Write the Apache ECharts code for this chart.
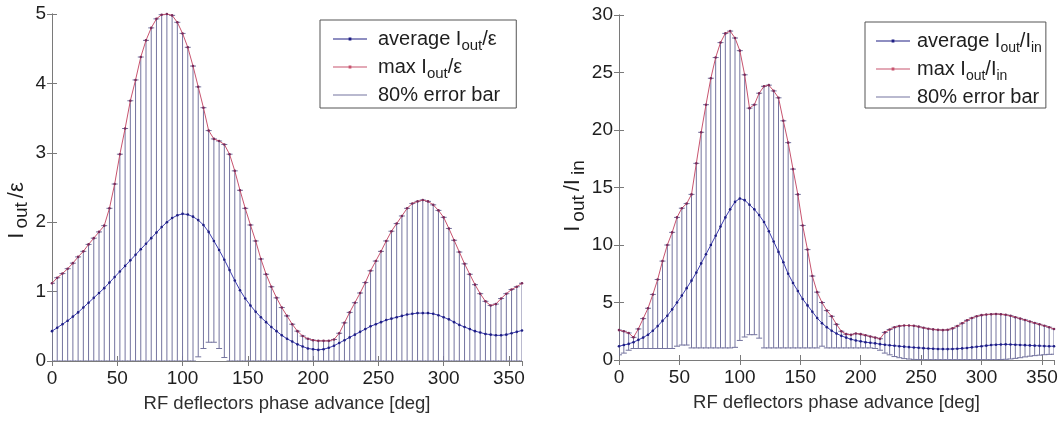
<!DOCTYPE html>
<html><head><meta charset="utf-8">
<script src="https://cdn.jsdelivr.net/npm/echarts@6/dist/echarts.min.js"></script>
<style>html,body{margin:0;padding:0;background:#fff}#c{width:1062px;height:421px}</style>
</head><body><div id="c"></div>
<script>
// phase advance grid (deg), one sample every 4 degrees
const phase = Array.from({length: 91}, (_, i) => i * 4);
const xTicks = [0, 50, 100, 150, 200, 250, 300, 350];

// ---- left panel: Iout/epsilon ----
const leftMax = [
 1.12,1.20,1.26,1.33,1.41,1.50,1.58,1.68,1.77,1.86,
 1.95,2.20,2.55,2.98,3.35,3.75,4.05,4.38,4.62,4.80,
 4.93,4.99,5.00,4.98,4.88,4.72,4.52,4.25,3.95,3.65,
 3.32,3.20,3.17,3.12,2.98,2.74,2.46,2.20,1.96,1.73,
 1.47,1.25,1.07,0.91,0.77,0.65,0.53,0.43,0.36,0.32,
 0.30,0.29,0.29,0.29,0.31,0.40,0.55,0.70,0.84,0.98,
 1.13,1.30,1.44,1.58,1.73,1.87,1.98,2.09,2.20,2.27,
 2.30,2.32,2.30,2.25,2.17,2.07,1.91,1.74,1.57,1.40,
 1.25,1.10,0.97,0.86,0.80,0.82,0.90,0.97,1.03,1.07,
 1.12];
const leftAvg = [
 0.43,0.48,0.53,0.58,0.64,0.70,0.77,0.84,0.91,0.98,
 1.05,1.13,1.21,1.29,1.37,1.45,1.53,1.61,1.69,1.77,
 1.85,1.93,2.00,2.06,2.10,2.12,2.11,2.08,2.03,1.96,
 1.86,1.73,1.60,1.46,1.31,1.16,1.02,0.90,0.80,0.71,
 0.63,0.56,0.49,0.43,0.37,0.32,0.28,0.24,0.21,0.18,
 0.17,0.16,0.17,0.19,0.22,0.26,0.30,0.34,0.38,0.42,
 0.46,0.50,0.53,0.56,0.59,0.61,0.63,0.65,0.67,0.68,
 0.69,0.69,0.69,0.68,0.66,0.63,0.60,0.56,0.52,0.49,
 0.46,0.43,0.41,0.39,0.38,0.37,0.37,0.38,0.40,0.42,
 0.44];
const leftLow = [
 0,0,0,0,0,0,0,0,0,0,
 0,0,0,0,0,0,0,0,0,0,
 0,0,0,0,0,0,0,0,0.06,0.18,
 0.27,0.27,0.18,0.05,0,0,0,0,0,0,
 0,0,0,0,0,0,0,0,0,0,
 0,0,0,0,0,0,0,0,0,0,
 0,0,0,0,0,0,0,0,0,0,
 0,0,0,0,0,0,0,0,0,0,
 0,0,0,0,0,0,0,0,0,0,
 0];
const leftYTicks = [0, 1, 2, 3, 4, 5];

// ---- right panel: Iout/Iin ----
const rightMax = [
 2.60,2.50,2.35,1.97,2.70,3.60,4.50,5.70,7.00,8.60,
 10.0,11.1,12.4,13.2,13.6,14.4,17.1,19.8,22.2,24.5,
 26.3,27.6,28.4,28.6,28.0,26.9,24.8,21.9,22.2,23.2,
 23.8,23.9,23.4,22.8,20.8,18.9,16.6,14.4,11.7,9.6,
 7.30,5.90,5.00,4.30,3.80,3.10,2.50,2.25,2.20,2.30,
 2.25,2.15,2.05,1.95,1.85,2.40,2.65,2.85,2.95,3.00,
 3.00,2.98,2.90,2.80,2.72,2.66,2.62,2.60,2.62,2.75,
 2.95,3.20,3.45,3.65,3.80,3.90,3.95,3.98,4.00,3.98,
 3.93,3.85,3.72,3.60,3.48,3.35,3.22,3.10,2.98,2.85,
 2.70];
const rightAvg = [
 1.20,1.30,1.40,1.55,1.75,1.95,2.20,2.55,2.95,3.40,
 3.85,4.40,5.00,5.60,6.25,6.90,7.60,8.40,9.20,10.0,
 10.8,11.6,12.4,13.1,13.75,14.05,13.9,13.5,13.1,12.6,
 12.0,11.2,10.3,9.40,8.50,7.50,6.70,6.00,5.30,4.75,
 4.20,3.65,3.20,2.85,2.55,2.30,2.10,1.95,1.80,1.70,
 1.62,1.55,1.50,1.45,1.38,1.33,1.28,1.24,1.20,1.16,
 1.12,1.09,1.06,1.03,1.00,0.98,0.96,0.95,0.95,0.96,
 0.98,1.01,1.05,1.10,1.15,1.20,1.25,1.30,1.33,1.35,
 1.36,1.35,1.33,1.31,1.29,1.27,1.25,1.23,1.21,1.20,
 1.20];
const rightLow = [
 0.45,0.60,0.85,1.00,1.00,1.00,1.00,1.00,1.00,1.00,
 1.00,1.00,1.20,1.30,1.30,1.05,1.05,1.05,1.05,1.05,
 1.05,1.05,1.05,1.05,1.10,1.70,2.00,2.20,2.20,1.90,
 1.05,1.05,1.05,1.05,1.05,1.05,1.05,1.05,1.05,1.05,
 1.05,1.05,1.20,1.05,1.05,1.05,1.05,1.05,1.05,1.05,
 1.05,1.05,1.05,1.00,0.85,0.60,0.45,0.30,0.20,0.12,
 0.08,0.05,0.04,0.03,0.03,0.03,0.03,0.03,0.03,0.03,
 0.03,0.03,0.03,0.03,0.03,0.03,0.03,0.03,0.03,0.04,
 0.06,0.09,0.14,0.20,0.27,0.33,0.38,0.42,0.46,0.49,
 0.50];
const rightYTicks = [0, 5, 10, 15, 20, 25, 30];

const xTitle = 'RF deflectors phase advance [deg]';
const legendLeft = ['average Iout/ε', 'max Iout/ε', '80% error bar'];
const legendRight = ['average Iout/Iin', 'max Iout/Iin', '80% error bar '];

// ---------------- styling ----------------
const FONT = 'Liberation Sans, Arial, Helvetica, sans-serif';
const AXIS_COLOR = '#7a7a7a';
const TEXT_COLOR = '#1e1e1e';
const BAR_COLOR = '#74749f';
const AVG_LINE = '#3c3cb0';
const AVG_DOT = '#1e1e84';
const MAX_LINE = '#c8546f';
const MAX_DOT = '#7a2a5a';

// rich styles: main text centred in a tall line, subscript pinned to the line bottom
function richSub(fs, lh, sfs, slh, gap, hpad) {
  return {
    g: {width: gap},
    t: {fontSize: fs, lineHeight: lh, verticalAlign: 'middle', fontFamily: FONT, color: TEXT_COLOR,
        padding: [0, hpad, 0, hpad]},
    s: {fontSize: sfs, lineHeight: slh, verticalAlign: 'bottom', fontFamily: FONT, color: TEXT_COLOR,
        padding: [0, hpad, 0, hpad]}
  };
}

const legendRich = {
  'average Iout/ε': '{g|}{t|average I}{s|out}{t|/ε}',
  'max Iout/ε': '{g|}{t|max I}{s|out}{t|/ε}',
  '80% error bar': '{g|}{t|80% error bar}',
  'average Iout/Iin': '{g|}{t|average I}{s|out}{t|/I}{s|in}',
  'max Iout/Iin': '{g|}{t|max I}{s|out}{t|/I}{s|in}',
  '80% error bar ': '{g|}{t|80% error bar}'
};

const ICON_DOT = 'path://M0,4.45H34V5.55H0Z M15.6,3.6H18.4V6.4H15.6Z';
const ICON_LINE = 'path://M0,4.45H34V5.55H0Z M0,3.6H0.01V6.4H0Z';

function legendCfg(left, top, names, pad, gap, sfs) {
  const colors = [AVG_DOT, MAX_LINE, BAR_COLOR];
  return {
    orient: 'vertical', left: left, top: top,
    data: names.map((n, i) => ({name: n, icon: i < 2 ? ICON_DOT : ICON_LINE,
      itemStyle: {color: colors[i], borderWidth: 0}})),
    itemWidth: 34, itemHeight: 10, itemGap: 4,
    padding: pad, borderColor: '#555', borderWidth: 1, backgroundColor: '#fff',
    selectedMode: false,
    formatter: n => legendRich[n],
    textStyle: {fontFamily: FONT, color: TEXT_COLOR, rich: richSub(20, 28, sfs, 14, gap, 0)}
  };
}

function xAxesFor(gi) {
  const base = {type: 'value', gridIndex: gi, min: 0, max: 360, interval: 50,
    axisLine: {show: true, lineStyle: {color: AXIS_COLOR, width: 1}},
    axisTick: {show: true, inside: true, length: 5, lineStyle: {color: AXIS_COLOR}},
    splitLine: {show: false}};
  return [
    Object.assign({}, base, {position: 'bottom',
      axisLabel: {show: true, fontFamily: FONT, fontSize: 19, color: TEXT_COLOR, margin: 8,
        showMaxLabel: false, formatter: v => xTicks.includes(v) ? String(v) : ''},
      name: xTitle, nameLocation: 'middle', nameGap: 33,
      nameTextStyle: {fontFamily: FONT, fontSize: 18.5, color: '#2e2e2e'}}),
    Object.assign({}, base, {position: 'top', axisLabel: {show: false}})
  ];
}

function yAxesFor(gi, ticks, name, gap, shift) {
  const base = {type: 'value', gridIndex: gi, min: ticks[0], max: ticks[ticks.length - 1],
    interval: ticks[1] - ticks[0],
    axisLine: {show: true, lineStyle: {color: AXIS_COLOR, width: 1}},
    axisTick: {show: true, inside: true, length: 5, lineStyle: {color: AXIS_COLOR}},
    splitLine: {show: false}};
  return [
    Object.assign({}, base, {position: 'left',
      axisLabel: {show: true, fontFamily: FONT, fontSize: 19, color: TEXT_COLOR, margin: 6},
      name: name, nameLocation: 'middle', nameGap: gap, nameRotate: 90,
      nameTextStyle: {fontFamily: FONT, color: TEXT_COLOR, padding: [0, shift, 0, 0],
        rich: richSub(22, 30, 19, 16, 0, 2)}}),
    Object.assign({}, base, {position: 'right', axisLabel: {show: false}})
  ];
}

function renderErr(params, api) {
  const x = api.value(0), lo = api.value(1), hi = api.value(2);
  const a = api.coord([x, lo]), b = api.coord([x, hi]);
  const w = 3;
  const style = {stroke: BAR_COLOR, lineWidth: 1, fill: null};
  return {type: 'group', children: [
    {type: 'line', shape: {x1: a[0], y1: a[1], x2: b[0], y2: b[1]}, style: style},
    {type: 'line', shape: {x1: a[0] - w, y1: a[1], x2: a[0] + w, y2: a[1]}, style: style},
    {type: 'line', shape: {x1: b[0] - w, y1: b[1], x2: b[0] + w, y2: b[1]}, style: style}
  ]};
}

function seriesFor(axisIdx, names, low, max, avg) {
  return [
    {type: 'custom', name: names[2], xAxisIndex: axisIdx, yAxisIndex: axisIdx,
      renderItem: renderErr, clip: true, itemStyle: {color: BAR_COLOR},
      encode: {x: 0, y: [1, 2]},
      data: phase.map((p, i) => [p, low[i], max[i]]), z: 1},
    {type: 'line', name: names[1], xAxisIndex: axisIdx, yAxisIndex: axisIdx,
      data: phase.map((p, i) => [p, max[i]]), symbol: 'circle', symbolSize: 2.6,
      lineStyle: {color: MAX_LINE, width: 1}, itemStyle: {color: MAX_DOT}, z: 3},
    {type: 'line', name: names[0], xAxisIndex: axisIdx, yAxisIndex: axisIdx,
      data: phase.map((p, i) => [p, avg[i]]), symbol: 'circle', symbolSize: 2.6,
      lineStyle: {color: AVG_LINE, width: 1}, itemStyle: {color: AVG_DOT}, z: 4}
  ];
}

const chart = echarts.init(document.getElementById('c'), null, {renderer: 'canvas'});
chart.setOption({
  animation: false,
  backgroundColor: '#ffffff',
  textStyle: {fontFamily: FONT},
  grid: [
    {left: 52, top: 14, width: 470, height: 347, containLabel: false},
    {left: 619, top: 15, width: 435, height: 345, containLabel: false}
  ],
  xAxis: [].concat(xAxesFor(0), xAxesFor(1)),
  yAxis: [].concat(
    yAxesFor(0, leftYTicks, '{t|I}{s|out}{t|/ε}', 20, 46),
    yAxesFor(1, rightYTicks, '{t|I}{s|out}{t|/I}{s|in}', 26, 17)),
  legend: [
    legendCfg(320, 20, legendLeft, [9, 16, 3, 13], 6, 15),
    legendCfg(865, 22, legendRight, [9, 4, 1, 11], 2, 14)
  ],
  series: [].concat(
    seriesFor(0, legendLeft, leftLow, leftMax, leftAvg),
    seriesFor(2, legendRight, rightLow, rightMax, rightAvg))
});
</script></body></html>
